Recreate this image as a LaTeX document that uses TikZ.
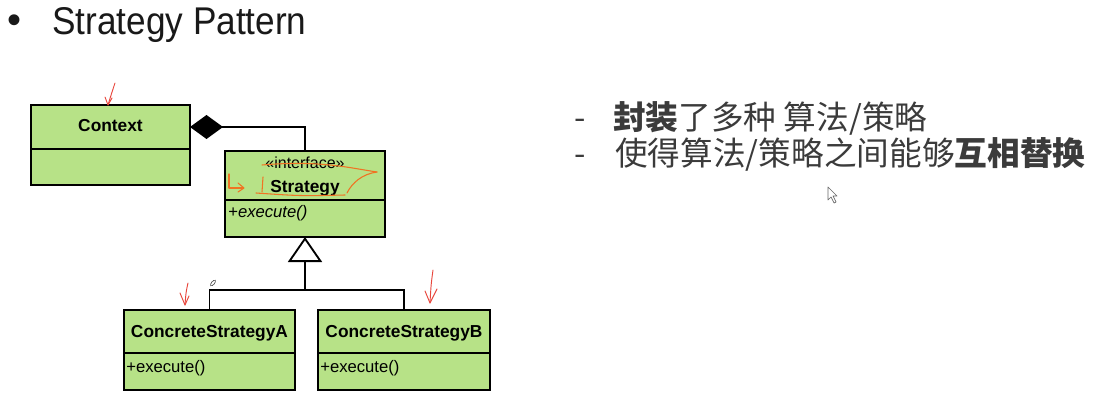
\documentclass[tikz,border=0pt]{standalone}
\usepackage{fontspec}
\setmainfont{Liberation Sans}
\newfontfamily\cjk{Noto Sans CJK SC}
\usetikzlibrary{arrows.meta}
\definecolor{umlgreen}{RGB}{183,226,135}
\definecolor{penred}{RGB}{232,70,60}
\definecolor{penorange}{RGB}{240,115,35}
\definecolor{txt}{RGB}{25,25,25}
\tikzset{
  part/.style={draw=black, line width=1.2pt, fill=umlgreen, inner sep=0pt, outer sep=0pt, anchor=north west},
  nm/.style={font=\fontsize{13}{15}\selectfont\bfseries, inner sep=0pt, anchor=base},
  meth/.style={font=\fontsize{12.5}{15}\selectfont, inner sep=0pt, anchor=base west},
  conn/.style={draw=black, line width=1.4pt},
  pen/.style={draw=penred, line width=0.7pt, line cap=round, line join=round},
  peno/.style={draw=penorange, line width=0.8pt, line cap=round, line join=round},
  cjkline/.style={font=\cjk\fontsize{24.5}{28}\selectfont, text=txt!85!white, inner sep=0pt, anchor=base west}
}
\begin{document}
\begin{tikzpicture}[x=0.75pt,y=-0.75pt]
\useasboundingbox[fill=white] (0,0) rectangle (1100,403);

% title
\node[font=\fontsize{30}{32}\selectfont, text=txt, inner sep=0pt] (bul) at (15,24) {\textbullet};
\node[font=\fontsize{29}{32}\selectfont, text=txt, inner sep=0pt, anchor=base west] (title) at (52,35) {\scalebox{0.91}[1]{Strategy Pattern}};

% Context
\node[part, minimum width=119.25pt, minimum height=33pt] (ch) at (31,105) {};
\node[part, minimum width=119.25pt, minimum height=27pt] (cb) at (31,149) {};
\node[nm] (ctxt) at (110.5,132) {Context};

% Strategy
\node[part, minimum width=120pt, minimum height=36.75pt] (sh) at (225,151) {};
\node[part, minimum width=120pt, minimum height=27.75pt] (sb) at (225,200) {};
\node[font=\fontsize{12}{14}\selectfont, inner sep=0pt, anchor=base] (sst) at (305,168) {\guillemotleft interface\guillemotright};
\node[nm] (snm) at (305,192) {Strategy};
\node[meth] (sm) at (228,217) {+\textit{execute()}};

% ConcreteStrategyA
\node[part, minimum width=128.25pt, minimum height=32.25pt] (ah) at (124,310) {};
\node[part, minimum width=128.25pt, minimum height=27.75pt] (ab) at (124,353) {};
\node[nm] (anm) at (209.5,337) {ConcreteStrategyA};
\node[meth] (am) at (126,372) {+execute()};

% ConcreteStrategyB
\node[part, minimum width=129pt, minimum height=32.25pt] (bh) at (318,310) {};
\node[part, minimum width=129pt, minimum height=27.75pt] (bb) at (318,353) {};
\node[nm] (bnm) at (404,337) {ConcreteStrategyB};
\node[meth] (bm) at (320,372) {+execute()};

% composition
\draw[conn, {Diamond[length=24.75pt,width=18pt,fill=black]}-] (ch.east) -| (sh.north);

% generalization
\coordinate (j) at (305,290);
\draw[conn] (ah.north) |- (j) -| (bh.north);
\draw[conn, -{Triangle[open, length=18.75pt, width=25.5pt, fill=white]}] (j) -- (sb.south);

% text on the right
\node[cjkline] (d1) at (574,129) {-};
\node[cjkline] (l1) at (613,129) {\textbf{封装}了多种 算法/策略};
\node[cjkline] (d2) at (574,165) {-};
\node[cjkline] (l2) at (615,165) {使得算法/策略之间能够\textbf{互相替换}};

% pen annotations
\draw[pen] (115,83) .. controls (112,92) .. (108,105);
\draw[pen] (105,97) -- (108,105) -- (112,98);
\draw[pen] (188,283) .. controls (186,292) .. (185,305);
\draw[pen] (180,293) -- (185,305) -- (189,296);
\draw[pen] (433,270) .. controls (431,285) .. (430,303);
\draw[pen] (425,291) -- (430,303) -- (437,289);
\draw[draw=black!70, line width=0.5pt, rotate around={50:(213,283)}] (213,283) ellipse (3.5 and 1.5);
\draw[peno] (229,174) -- (229,188) -- (243,188);
\draw[peno] (238,183) -- (244,188) -- (238,192);
\draw[peno] (263,177) -- (262,192);
\draw[peno] (256,193) .. controls (300,196) .. (345,195);
\draw[peno] (262,165) .. controls (320,160) and (350,168) .. (377,172);
\draw[peno] (377,172) .. controls (362,174) and (352,183) .. (347,193);

% mouse cursor
\draw[draw=black!60, line width=0.5pt, fill=white, line join=round] (828,187) -- (828,200) -- (831,197) -- (834,203) -- (836,202) -- (833,196) -- (837,196) -- cycle;
\end{tikzpicture}
\end{document}
